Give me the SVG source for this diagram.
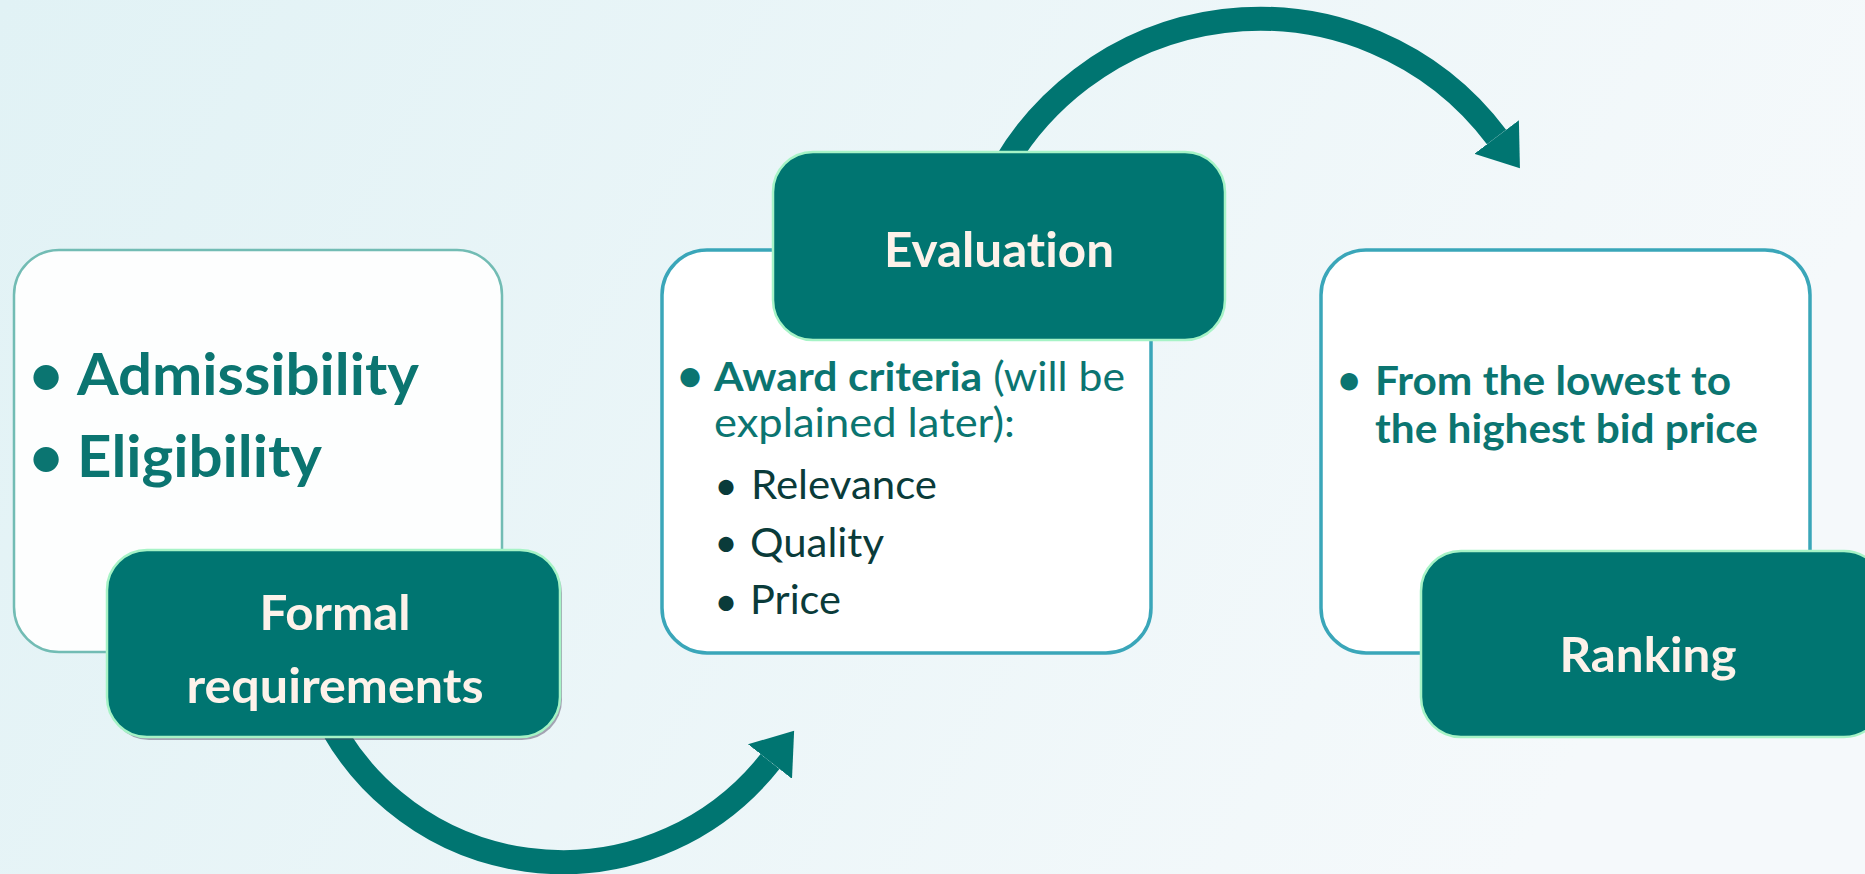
<svg xmlns="http://www.w3.org/2000/svg" width="1865" height="874" viewBox="0 0 1865 874">
<defs>
<linearGradient id="bg" x1="0" y1="0" x2="1" y2="0.25">
<stop offset="0" stop-color="#e1f2f5"/>
<stop offset="1" stop-color="#f5f9fb"/>
</linearGradient>
<marker id="ah" markerUnits="userSpaceOnUse" viewBox="0 -28 40 56" refX="0" refY="0" markerWidth="40" markerHeight="56" orient="auto">
<path d="M0,-28 L39,0 L0,28 Z" fill="#007571"/>
</marker>
<style>
text{font-variant-ligatures:none}
.card{fill:#ffffff;stroke:#3aa6b9;stroke-width:3.5}
.card1{fill:#fdfefe;stroke:#72bcb4;stroke-width:2.5}
.tag{fill:#007571;stroke:#a6f3c6;stroke-width:2.5}
.ttl{font-family:Lato,"Liberation Sans",sans-serif;font-weight:700;font-size:47px;fill:#fdf2ea;text-anchor:middle}
.t{font-family:Lato,"Liberation Sans",sans-serif;fill:#0b7571}
.bold{font-weight:700}
.sub{font-family:Lato,"Liberation Sans",sans-serif;fill:#0a3b3a;font-size:40.5px}
.arc{fill:none;stroke:#007571;stroke-width:24;marker-end:url(#ah)}
</style>
</defs>
<rect x="0" y="0" width="1865" height="874" fill="url(#bg)"/>

<g id="connectors">
<path class="arc" d="M 319 700 A 264 264 0 0 0 770 761.5"/>
<path class="arc" d="M 987 200 A 296 296 0 0 1 1496.5 137"/>
</g>

<g id="formal-details">
<rect class="card1" x="14" y="250" width="488" height="402" rx="45"/>
<text class="t bold" x="46" y="395" font-size="58" text-anchor="middle">•</text>
<text class="t bold" x="77" y="395" font-size="57.5" textLength="342" lengthAdjust="spacingAndGlyphs">Admissibility</text>
<text class="t bold" x="46" y="477" font-size="58" text-anchor="middle">•</text>
<text class="t bold" x="77" y="477" font-size="57.5" textLength="245" lengthAdjust="spacingAndGlyphs">Eligibility</text>
</g>

<g id="formal-requirements">
<rect x="109" y="553" width="453" height="187" rx="40" fill="#4b3f5e" opacity="0.45"/>
<rect class="tag" x="107" y="550" width="453" height="187" rx="40"/>
<text class="ttl" x="335" y="630" textLength="151" lengthAdjust="spacingAndGlyphs">Formal</text>
<text class="ttl" x="335" y="703" textLength="297" lengthAdjust="spacingAndGlyphs">requirements</text>
</g>

<g id="evaluation-details">
<rect class="card" x="662" y="250" width="489" height="403" rx="45"/>
<text class="t bold" x="690" y="390.5" font-size="44" text-anchor="middle">•</text>
<text class="t" x="714" y="391" font-size="40.5" textLength="411" lengthAdjust="spacingAndGlyphs"><tspan class="bold">Award criteria</tspan> (will be</text>
<text class="t" x="714" y="437" font-size="40.5" textLength="301" lengthAdjust="spacingAndGlyphs">explained later):</text>
<text class="sub" x="726" y="500" font-size="44" text-anchor="middle">•</text>
<text class="sub" x="751" y="499" textLength="186" lengthAdjust="spacingAndGlyphs">Relevance</text>
<text class="sub" x="726" y="557" font-size="44" text-anchor="middle">•</text>
<text class="sub" x="750" y="557" textLength="134" lengthAdjust="spacingAndGlyphs">Quality</text>
<text class="sub" x="726" y="616" font-size="44" text-anchor="middle">•</text>
<text class="sub" x="750" y="614" textLength="91" lengthAdjust="spacingAndGlyphs">Price</text>
</g>

<g id="evaluation">
<rect class="tag" x="773" y="152" width="452" height="188" rx="40"/>
<text class="ttl" x="999" y="267" textLength="230" lengthAdjust="spacingAndGlyphs">Evaluation</text>
</g>

<g id="ranking-details">
<rect class="card" x="1321" y="250" width="489" height="403" rx="45"/>
<text class="t bold" x="1349" y="394" font-size="40" text-anchor="middle">•</text>
<text class="t bold" x="1375" y="395" font-size="40.5" textLength="356" lengthAdjust="spacingAndGlyphs">From the lowest to</text>
<text class="t bold" x="1375" y="443" font-size="40.5" textLength="383" lengthAdjust="spacingAndGlyphs">the highest bid price</text>
</g>

<g id="ranking">
<rect class="tag" x="1421" y="551" width="463" height="186" rx="40"/>
<text class="ttl" x="1648" y="672" textLength="177" lengthAdjust="spacingAndGlyphs">Ranking</text>
</g>
</svg>
